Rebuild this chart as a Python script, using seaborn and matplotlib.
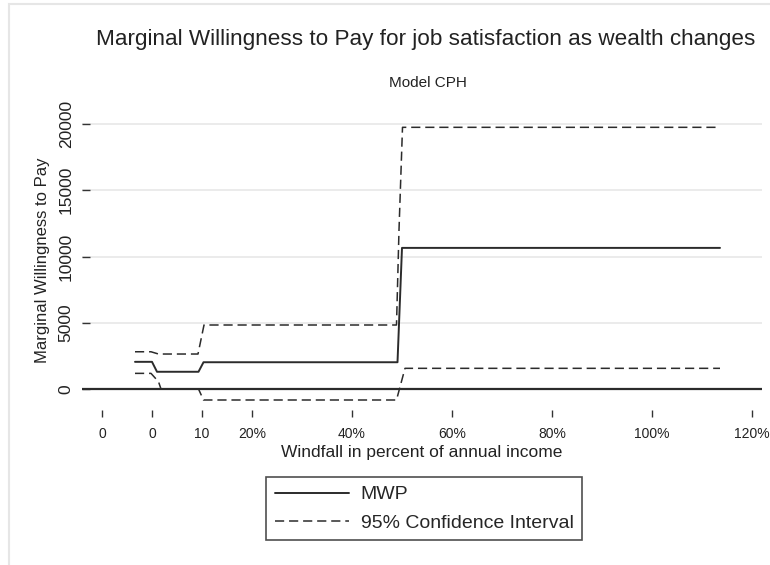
import numpy as np
import pandas as pd
import seaborn as sns
import matplotlib.pyplot as plt
from matplotlib.lines import Line2D
from matplotlib.patches import Rectangle

# ---- data (windfall in % of annual income, MWP values) ----
mwp_x = [-3.4, 0.0, 1.0, 9.3, 10.3, 49.1, 50.0, 113.6]
mwp_y = [2050, 2050, 1300, 1300, 2020, 2020, 10650, 10650]

ci_hi_x = [-3.4, -0.2, 1.3, 9.2, 10.4, 48.9, 49.4, 50.1, 113.6]
ci_hi_y = [2810, 2810, 2640, 2640, 4830, 4830, 12000, 19750, 19750]

ci_lo_x = [-3.4, -0.2, 1.3, 1.8, 9.3, 10.3, 48.9, 50.6, 113.6]
ci_lo_y = [1180, 1180, 550, 0, 0, -830, -830, 1560, 1560]

xtick_vals = [-10, 0, 10, 20, 40, 60, 80, 100, 120]
xtick_labels = ["0", "0", "10", "20%", "40%", "60%", "80%", "100%", "120%"]
ytick_vals = [0, 5000, 10000, 15000, 20000]

sns.set_theme(style="white")
plt.rcParams['font.family'] = ['Liberation Sans', 'DejaVu Sans']

W, H = 770, 565
fig = plt.figure(figsize=(W / 100, H / 100), dpi=100)
fig.patch.set_facecolor("white")

# outer light border (graph region)
fig.patches.append(Rectangle((8.5 / W, -0.05), 1.1, 1 - 3.5 / H + 0.05,
                             transform=fig.transFigure, fill=False,
                             edgecolor="#e6e6e6", linewidth=1.5))

ax_l, ax_r, ax_t, ax_b = 82, 762, 110, 410
ax = fig.add_axes([ax_l / W, 1 - ax_b / H, (ax_r - ax_l) / W, (ax_b - ax_t) / H])
ax.set_facecolor("white")

line_col = "#2b2b2b"
dash_pat = [6, 3.2]
df_mwp = pd.DataFrame({"x": mwp_x, "y": mwp_y})
df_hi = pd.DataFrame({"x": ci_hi_x, "y": ci_hi_y})
df_lo = pd.DataFrame({"x": ci_lo_x, "y": ci_lo_y})

# horizontal grid
for v in ytick_vals[1:]:
    ax.axhline(v, color="#e8e8e8", linewidth=1.2, zorder=0)
# zero line
ax.axhline(0, color="#2b2b2b", linewidth=1.6, zorder=1)

sns.lineplot(data=df_mwp, x="x", y="y", ax=ax, color=line_col, linewidth=1.4,
             sort=False, estimator=None, zorder=3)
sns.lineplot(data=df_hi, x="x", y="y", ax=ax, color=line_col, linewidth=1.1,
             sort=False, estimator=None, zorder=3)
sns.lineplot(data=df_lo, x="x", y="y", ax=ax, color=line_col, linewidth=1.1,
             sort=False, estimator=None, zorder=3)
for ln in ax.get_lines()[-2:]:
    ln.set_dashes(dash_pat)

ax.set_xlim(-14, 122)
ax.set_ylim(-1585, 21057)

for s in ax.spines.values():
    s.set_visible(False)

ax.set_xticks(xtick_vals)
ax.set_xticklabels(xtick_labels, fontsize=10, color="#222222")
ax.set_yticks(ytick_vals)
ax.set_yticklabels([str(v) for v in ytick_vals], fontsize=12.5, rotation=90,
                   va="center", color="#222222")
ax.tick_params(axis="x", direction="out", length=5, width=1, color="#333333",
               bottom=True, pad=7)
ax.tick_params(axis="y", direction="in", length=6, width=1, color="#333333",
               left=True, pad=6)
ax.grid(False)

ax.set_xlabel("Windfall in percent of annual income", fontsize=12.5,
              color="#222222", labelpad=3)
ax.set_ylabel("Marginal Willingness to Pay", fontsize=12, color="#222222",
              labelpad=6)

fig.text(426 / W, 1 - 40 / H, "Marginal Willingness to Pay for job satisfaction as wealth changes",
         ha="center", va="center", fontsize=16.2, color="#222222")
fig.text(428 / W, 1 - 83 / H, "Model CPH", ha="center", va="center",
         fontsize=11, color="#222222")

handles = [Line2D([], [], color=line_col, linewidth=1.4),
           Line2D([], [], color=line_col, linewidth=1.1, dashes=dash_pat)]
leg = fig.legend(handles, ["MWP", "95% Confidence Interval"],
                 loc="upper left", bbox_to_anchor=(266 / W, 1 - 477 / H),
                 fontsize=14, frameon=True, fancybox=False,
                 edgecolor="#222222", handlelength=3.8, handletextpad=0.62,
                 borderpad=0.45, labelspacing=0.55, borderaxespad=0)
leg.get_frame().set_linewidth(1.2)

fig.savefig("out.png", dpi=100, facecolor="white")
